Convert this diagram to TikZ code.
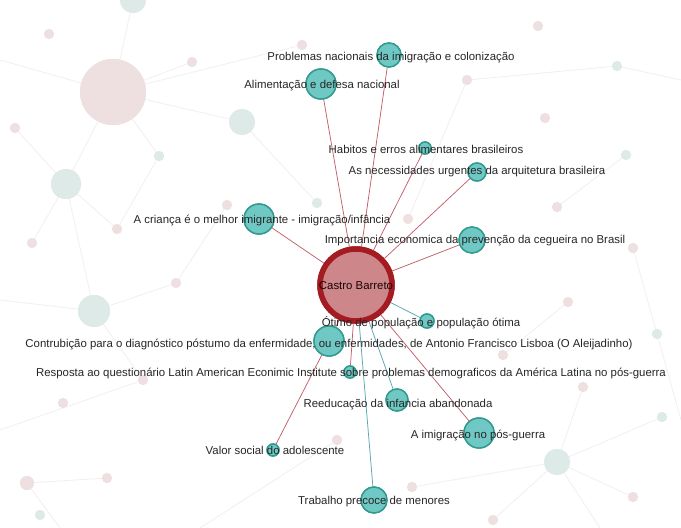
\documentclass[tikz,border=0pt]{standalone}
\usepackage{fontspec}
\setmainfont{Liberation Sans}
\definecolor{tealfill}{HTML}{70C8C4}
\definecolor{tealdraw}{HTML}{2F9A8E}
\definecolor{hubfill}{HTML}{CD878B}
\definecolor{hubdraw}{HTML}{A41C22}
\definecolor{redge}{HTML}{C2606A}
\definecolor{tedge}{HTML}{5AA7B3}
\definecolor{fadeline}{HTML}{F3EFEF}
\definecolor{fadepink}{HTML}{EEDFE0}
\definecolor{fadeteal}{HTML}{DDEAE8}
\tikzset{
  x=1pt,y=-1pt,
  doc/.style={circle,fill=tealfill,draw=tealdraw,line width=1.4pt,inner sep=0pt,minimum size=#1},
  hub/.style={circle,fill=hubfill,draw=hubdraw,line width=5.5pt,inner sep=0pt,minimum size=#1},
  lab/.style={font=\fontsize{11.4}{13}\selectfont,text=black!85,inner sep=0pt},
  rlink/.style={draw=redge,line width=0.75pt},
  tlink/.style={draw=tedge,line width=0.75pt},
  bgline/.style={draw=fadeline,line width=0.8pt},
  bgp/.style={circle,fill=fadepink,inner sep=0pt,minimum size=#1},
  bgt/.style={circle,fill=fadeteal,inner sep=0pt,minimum size=#1},
}
\begin{document}
\begin{tikzpicture}
\useasboundingbox (0,0) rectangle (681,528);
\fill[white] (0,0) rectangle (681,528);
% faded background graph
\node[bgp=66] (b1) at (113,92) {};
\node[bgt=26] (b2) at (242,122) {};
\node[bgt=30] (b3) at (66,184) {};
\node[bgt=32] (b4) at (94,311) {};
\node[bgt=26] (b5) at (557,462) {};
\node[bgt=26] (b6) at (133,0) {};
\node[bgp=10] (p1) at (49,34) {};
\node[bgp=10] (p2) at (192,62) {};
\node[bgp=10] (p3) at (302,45) {};
\node[bgp=10] (p4) at (538,26) {};
\node[bgt=10] (p5) at (617,66) {};
\node[bgp=10] (p6) at (467,80) {};
\node[bgp=10] (p7) at (545,118) {};
\node[bgt=10] (p8) at (626,155) {};
\node[bgp=10] (p9) at (15,128) {};
\node[bgt=10] (p10) at (159,156) {};
\node[bgp=10] (p11) at (227,205) {};
\node[bgp=10] (p12) at (117,229) {};
\node[bgp=10] (p13) at (32,243) {};
\node[bgp=10] (p14) at (176,283) {};
\node[bgt=10] (p15) at (317,203) {};
\node[bgp=10] (p16) at (408,219) {};
\node[bgp=10] (p17) at (557,207) {};
\node[bgp=10] (p18) at (633,248) {};
\node[bgp=10] (p19) at (568,302) {};
\node[bgt=10] (p20) at (657,334) {};
\node[bgp=10] (p21) at (503,355) {};
\node[bgp=10] (p22) at (143,380) {};
\node[bgp=10] (p23) at (63,403) {};
\node[bgp=14] (p24) at (27,483) {};
\node[bgp=10] (p25) at (107,478) {};
\node[bgt=10] (p26) at (40,515) {};
\node[bgp=10] (p27) at (583,387) {};
\node[bgt=10] (p28) at (662,417) {};
\node[bgp=10] (p29) at (633,497) {};
\node[bgp=10] (p30) at (493,520) {};
\node[bgp=10] (p31) at (412,487) {};
\node[bgp=10] (p32) at (337,440) {};
\coordinate (e1) at (0,60);
\coordinate (e2) at (0,300);
\coordinate (e3) at (681,80);
\coordinate (e4) at (681,420);
\coordinate (e5) at (200,528);
\coordinate (e6) at (600,528);
\coordinate (e7) at (0,430);
\coordinate (e8) at (60,528);
\draw[bgline] (b1) -- (e1);
\draw[bgline] (b1) -- (p2);
\draw[bgline] (b1) -- (b2);
\draw[bgline] (b1) -- (p10);
\draw[bgline] (b1) -- (b3);
\draw[bgline] (b1) -- (b6);
\draw[bgline] (b1) -- (p3);
\draw[bgline] (b3) -- (p9);
\draw[bgline] (b3) -- (p12);
\draw[bgline] (b3) -- (p13);
\draw[bgline] (b4) -- (p14);
\draw[bgline] (b4) -- (e2);
\draw[bgline] (b4) -- (p22);
\draw[bgline] (b4) -- (b3);
\draw[bgline] (p14) -- (p11);
\draw[bgline] (b2) -- (p15);
\draw[bgline] (p5) -- (e3);
\draw[bgline] (p5) -- (p6);
\draw[bgline] (p6) -- (p16);
\draw[bgline] (p17) -- (p8);
\draw[bgline] (p18) -- (p20);
\draw[bgline] (p19) -- (p21);
\draw[bgline] (p20) -- (e4);
\draw[bgline] (b5) -- (p27);
\draw[bgline] (b5) -- (p29);
\draw[bgline] (b5) -- (p30);
\draw[bgline] (b5) -- (p31);
\draw[bgline] (b5) -- (e6);
\draw[bgline] (p28) -- (b5);
\draw[bgline] (p22) -- (e7);
\draw[bgline] (p25) -- (p24);
\draw[bgline] (p24) -- (e8);
\draw[bgline] (p32) -- (e5);
\draw[bgline] (p12) -- (p10);
% redraw faded nodes over faded lines
\foreach \n/\s in {b1/66,p1/10,p2/10,p3/10,p4/10,p6/10,p7/10,p9/10,p11/10,p12/10,p13/10,p14/10,p16/10,p17/10,p18/10,p19/10,p21/10,p22/10,p23/10,p24/14,p25/10,p27/10,p29/10,p30/10,p31/10,p32/10}
  \node[bgp=\s] at (\n) {};
\foreach \n/\s in {b2/26,b3/30,b4/32,b5/26,b6/26,p5/10,p8/10,p10/10,p15/10,p20/10,p26/10,p28/10}
  \node[bgt=\s] at (\n) {};
% main graph
\node[hub=72] (cb) at (356,285) {};
\node[doc=24] (n1) at (389,55) {};
\node[doc=30] (n2) at (321,84) {};
\node[doc=12] (n3) at (425,148) {};
\node[doc=18] (n4) at (477,172) {};
\node[doc=30] (n5) at (259,219) {};
\node[doc=26] (n6) at (472,240) {};
\node[doc=14] (n7) at (427,321) {};
\node[doc=30] (n8) at (329,341) {};
\node[doc=12] (n9) at (350,372) {};
\node[doc=22] (n10) at (397,400) {};
\node[doc=30] (n11) at (479,433) {};
\node[doc=12] (n12) at (273,450) {};
\node[doc=26] (n13) at (374,500) {};
\path[rlink] (cb) -- (n1);
\path[rlink] (cb) -- (n2);
\path[rlink] (cb) -- (n3);
\path[rlink] (cb) -- (n4);
\path[rlink] (cb) -- (n5);
\path[rlink] (cb) -- (n6);
\path[tlink] (cb) -- (n7);
\path[rlink] (cb) -- (n8);
\path[rlink] (cb) -- (n9);
\path[tlink] (cb) -- (n10);
\path[rlink] (cb) -- (n11);
\path[rlink] (n8) -- (n12);
\path[tlink] (cb) -- (n13);
% redraw nodes on top of links
\node[hub=72] at (cb) {};
\foreach \n/\s in {n1/24,n2/30,n3/12,n4/18,n5/30,n6/26,n7/14,n8/30,n9/12,n10/22,n11/30,n12/12,n13/26}
  \node[doc=\s] at (\n) {};
% labels
\node[lab,text=black!85!hubdraw] (lcb) at (356,286) {Castro Barreto};
\node[lab] (l1) at (391,58) {Problemas nacionais da imigração e colonização};
\node[lab] (l2) at (322,86) {Alimentação e defesa nacional};
\node[lab] (l3) at (426,149) {Habitos e erros alimentares brasileiros};
\node[lab] (l4) at (477,172) {As necessidades urgentes da arquitetura brasileira};
\node[lab] (l5) at (262,221) {A criança é o melhor imigrante - imigração/infância};
\node[lab] (l6) at (475,241) {Importancia economica da prevenção da cegueira no Brasil};
\node[lab] (l7) at (421,323) {Ótimo de população e população ótima};
\node[lab] (l8) at (329,345) {Contrubição para o diagnóstico póstumo da enfermidade, ou enfermidades, de Antonio Francisco Lisboa (O Aleijadinho)};
\node[lab] (l9) at (351,373) {Resposta ao questionário Latin American Econimic Institute sobre problemas demograficos da América Latina no pós-guerra};
\node[lab] (l10) at (398,405) {Reeducação da infancia abandonada};
\node[lab] (l11) at (478,436) {A imigração no pós-guerra};
\node[lab] (l12) at (275,450) {Valor social do adolescente};
\node[lab] (l13) at (374,502) {Trabalho precoce de menores};
\end{tikzpicture}
\end{document}
